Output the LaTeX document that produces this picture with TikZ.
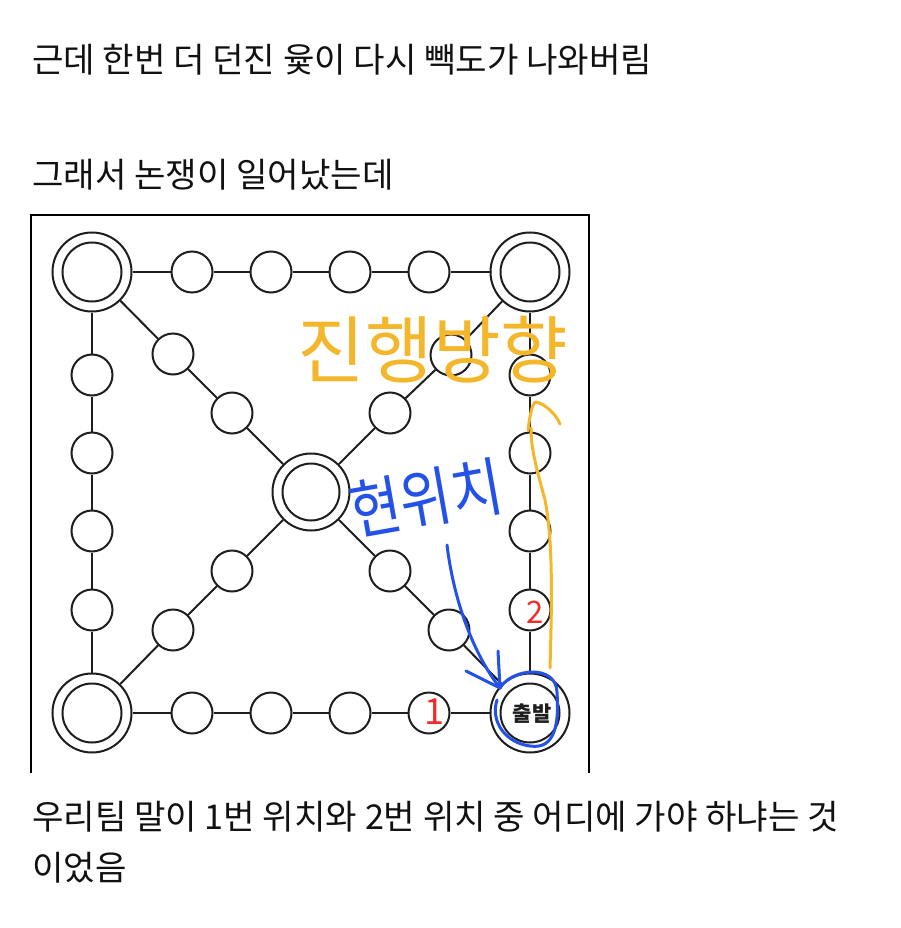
\documentclass[tikz,border=0pt]{standalone}
\usepackage{fontspec}
\setmainfont{Noto Sans CJK KR}
\newfontfamily\kr{Noto Sans CJK KR}
\definecolor{boardc}{HTML}{1E1E1E}
\definecolor{txt}{HTML}{111111}
\definecolor{yel}{HTML}{F4B72C}
\definecolor{blu}{HTML}{2452E8}
\definecolor{redd}{HTML}{EC2E2A}
\tikzset{
  spot/.style={circle, draw=boardc, line width=2pt, fill=white, minimum size=41pt, inner sep=0pt},
  bigspot/.style={spot, minimum size=79pt},
  link/.style={draw=boardc, line width=2pt},
  para/.style={anchor=west, inner sep=0pt, text=txt, font=\kr\fontsize{34.2pt}{38pt}\selectfont},
  pen/.style={line width=3pt, line cap=round, line join=round}
}
\begin{document}
\begin{tikzpicture}[x=1pt,y=-1pt]
\useasboundingbox (0,0) rectangle (900,928);
\fill[white] (0,0) rectangle (900,928);
% texts
\node[para] (p1) at (32,60) {근데 한번 더 던진 윷이 다시 빽도가 나와버림};
\node[para] (p2) at (32,175) {그래서 논쟁이 일어났는데};
\node[para] (p3) at (32,817) {우리팀 말이 1번 위치와 2번 위치 중 어디에 가야 하냐는 것};
\node[para] (p4) at (32,868) {이었음};
% frame
\draw[black, line width=2pt] (31,773) -- (31,215) -- (589,215) -- (589,773);
% board nodes
\node[bigspot] (TL) at (92,272) {};
\node[bigspot] (TR) at (530,272) {};
\node[bigspot] (BL) at (92,713) {};
\node[bigspot] (BR) at (530,713) {};
\node[bigspot, minimum size=77pt] (C) at (311,492) {};
\foreach \n/\x in {1/192,2/271,3/350,4/429}{
  \node[spot] (t\n) at (\x,272) {};
  \node[spot] (b\n) at (\x,713) {};
}
\foreach \n/\y in {1/375,2/453,3/531,4/610}{
  \node[spot] (l\n) at (92,\y) {};
  \node[spot] (r\n) at (530,\y) {};
}
\node[spot] (d1) at (173,354) {};
\node[spot] (d2) at (232,413) {};
\node[spot] (d3) at (390,571) {};
\node[spot] (d4) at (449,630) {};
\node[spot] (e1) at (451,355) {};
\node[spot] (e2) at (390,413) {};
\node[spot] (e3) at (232,571) {};
\node[spot] (e4) at (173,630) {};
% inner rings
\foreach \c in {TL,TR,BL,BR}{ \draw[link] (\c.center) circle[radius=29.5pt]; }
\draw[link] (C.center) circle[radius=28.5pt];
% links
\draw[link] (TL) -- (t1) -- (t2) -- (t3) -- (t4) -- (TR);
\draw[link] (BL) -- (b1) -- (b2) -- (b3) -- (b4) -- (BR);
\draw[link] (TL) -- (l1) -- (l2) -- (l3) -- (l4) -- (BL);
\draw[link] (TR) -- (r1) -- (r2) -- (r3) -- (r4) -- (BR);
\draw[link] (TL) -- (d1) -- (d2) -- (C) -- (d3) -- (d4) -- (BR);
\draw[link] (TR) -- (e1) -- (e2) -- (C) -- (e3) -- (e4) -- (BL);
% start label
\node[text=boardc, font=\kr\bfseries\fontsize{21pt}{24pt}\selectfont, inner sep=0pt] (start) at (532,714) {출발};
% red numbers
\node[text=redd, font=\kr\fontsize{36pt}{38pt}\selectfont, inner sep=0pt] (n1) at (434,712) {1};
\node[text=redd, font=\kr\fontsize{31pt}{34pt}\selectfont, inner sep=0pt] (n2) at (535,612) {2};
% yellow arrow
\coordinate (ya) at (550,668);
\coordinate (yb) at (545,500);
\coordinate (yc) at (531,428);
\coordinate (yl) at (528,430);
\coordinate (yt) at (536,402);
\coordinate (yr) at (560,424);
\draw[yel, pen] (ya) .. controls (552,600) and (553,540) .. (yb) .. controls (537,470) and (531,450) .. (yc);
\draw[yel, pen] (yl) .. controls (530,415) and (532,403) .. (yt) .. controls (545,404) and (556,414) .. (yr);
% yellow text
\node[text=yel, font=\kr\fontsize{70pt}{74pt}\selectfont, inner sep=0pt, xscale=1.05, yscale=1.05] (dir) at (433,350) {진행방향};
% blue text
\node[text=blu, font=\kr\fontsize{56pt}{60pt}\selectfont, inner sep=0pt, rotate=10, yscale=1.15] (here) at (426,498) {현위치};
% blue arrow and loop
\coordinate (ba) at (447,545);
\coordinate (bt) at (500,688);
\coordinate (bh1) at (466,671);
\coordinate (bh2) at (498,651);
\draw[blu, pen] (ba) .. controls (455,610) and (478,660) .. (bt);
\draw[blu, pen] (bh1) -- (bt) -- (bh2);
\draw[blu, pen] (bt) .. controls (512,668) and (556,664) .. (557,692) .. controls (559,722) and (556,750) .. (530,746) .. controls (506,743) and (490,722) .. (497,700);
\end{tikzpicture}
\end{document}
